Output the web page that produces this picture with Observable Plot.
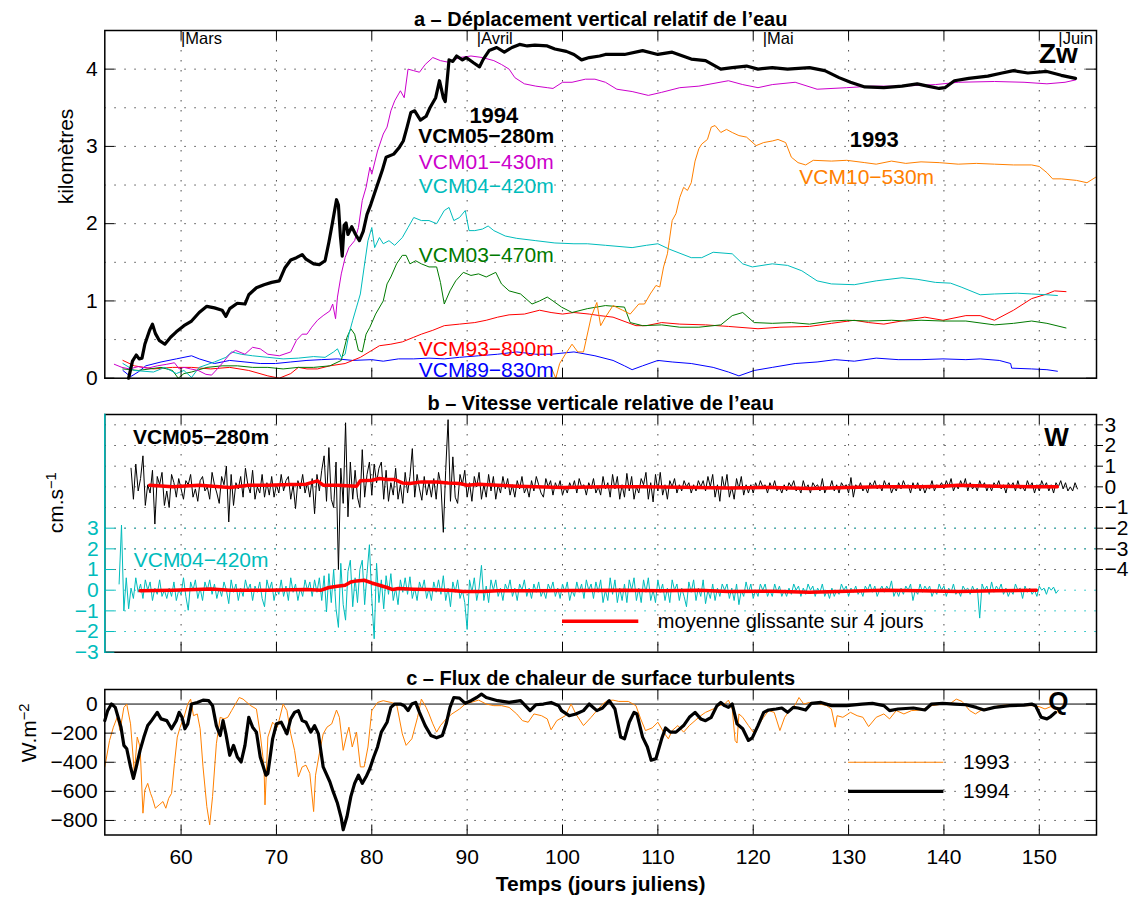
<!DOCTYPE html>
<html><head><meta charset="utf-8">
<script src="https://cdn.jsdelivr.net/npm/d3@7"></script>
<script src="https://cdn.jsdelivr.net/npm/@observablehq/plot@0.6"></script>
<style>
body{margin:0;background:#fff;}
#chart{width:1131px;}
#chart svg{display:block;}
</style></head><body><div id="chart"></div>
<script>
// ---------------- DATA ----------------
const xTicks = [60, 70, 80, 90, 100, 110, 120, 130, 140, 150];
const months = ["Mars", "Avril", "Mai", "Juin"];
const monthDays = [60, 91, 121, 152];

// Panel a: vertical displacement (km) [julian day, km]
const vcm05 = [[54.5,0.0],[54.9,0.22],[55.3,0.30],[55.6,0.25],[55.9,0.26],[56.2,0.44],[56.7,0.62],[57.0,0.70],[57.3,0.58],[57.7,0.49],[58.3,0.44],[58.9,0.53],[59.5,0.60],[60.3,0.68],[61.1,0.74],[61.9,0.85],[62.7,0.93],[63.5,0.91],[64.3,0.88],[64.7,0.80],[65.1,0.90],[65.9,0.97],[66.7,0.96],[67.1,1.08],[67.9,1.17],[68.7,1.21],[69.5,1.24],[70.3,1.26],[70.9,1.43],[71.5,1.53],[72.1,1.56],[72.7,1.60],[73.1,1.54],[73.9,1.48],[74.5,1.47],[75.1,1.52],[75.5,1.76],[75.9,2.03],[76.3,2.31],[76.5,2.24],[76.7,1.85],[76.9,1.58],[77.1,1.98],[77.3,2.01],[77.5,1.86],[77.9,1.96],[78.3,1.86],[78.7,1.78],[79.1,1.90],[79.5,2.12],[79.9,2.25],[80.5,2.47],[81.1,2.69],[81.5,2.86],[82.3,2.90],[82.9,2.99],[83.3,3.07],[83.7,3.25],[84.1,3.44],[84.5,3.46],[85.1,3.34],[85.7,3.39],[86.1,3.50],[86.7,3.63],[87.1,3.85],[87.5,3.63],[87.7,3.58],[88.1,4.12],[88.5,4.10],[88.9,4.17],[89.5,4.12],[89.9,4.15],[90.7,4.08],[91.3,4.03],[91.7,4.13],[92.3,4.24],[93.1,4.28],[93.9,4.22],[94.7,4.28],[95.5,4.32],[96.3,4.30],[97.1,4.31],[98.4,4.30],[99.2,4.26],[100.4,4.23],[101.2,4.19],[102.0,4.12],[102.8,4.15],[103.9,4.17],[104.5,4.19],[106.5,4.19],[108.4,4.24],[110.0,4.19],[111.5,4.22],[113.5,4.13],[115.0,4.11],[116.6,4.00],[117.8,4.02],[119.3,4.04],[120.5,4.00],[122.0,4.02],[123.6,4.00],[125.9,4.02],[127.5,3.98],[129.0,3.89],[130.2,3.83],[131.7,3.77],[133.7,3.76],[135.6,3.78],[137.2,3.81],[138.3,3.78],[139.5,3.75],[140.1,3.76],[141.1,3.85],[142.6,3.88],[144.6,3.91],[146.1,3.95],[147.3,3.98],[148.8,3.95],[150.8,3.97],[152.3,3.92],[153.8,3.88]];
const vcm01 = [[53.0,0.18],[53.8,0.14],[54.6,0.12],[55.5,0.15],[56.5,0.13],[57.5,0.16],[58.5,0.18],[59.3,0.20],[59.8,0.12],[60.3,0.14],[61.0,0.12],[61.8,0.10],[62.6,0.05],[63.2,0.04],[63.8,0.12],[64.5,0.22],[65.1,0.31],[65.7,0.36],[66.7,0.31],[67.5,0.40],[68.3,0.38],[69.1,0.31],[70.3,0.29],[71.5,0.34],[72.1,0.49],[72.7,0.57],[73.2,0.57],[73.7,0.66],[74.3,0.75],[74.9,0.81],[75.6,0.87],[75.9,0.96],[76.2,0.77],[76.4,1.05],[76.8,1.35],[77.2,1.56],[77.6,1.69],[78.2,1.78],[78.6,1.95],[79.0,2.30],[79.4,2.47],[79.8,2.73],[80.0,2.64],[80.6,2.94],[81.2,3.16],[81.6,3.25],[82.0,3.46],[82.4,3.59],[83.0,3.72],[83.4,3.63],[83.8,4.00],[84.4,3.98],[85.0,3.96],[85.6,4.06],[86.4,4.15],[87.2,4.11],[88.0,4.09],[89.2,4.15],[90.4,4.17],[91.6,4.15],[92.8,4.11],[93.6,4.06],[94.4,4.00],[95.0,3.89],[96.0,3.81],[97.2,3.78],[98.4,3.76],[99.0,3.75],[100.0,3.83],[101.0,3.83],[102.4,3.87],[103.4,3.87],[104.5,3.83],[105.7,3.74],[107.3,3.71],[109.0,3.66],[110.4,3.70],[112.3,3.76],[114.3,3.78],[117.4,3.85],[118.9,3.80],[120.5,3.76],[122.0,3.80],[124.4,3.83],[126.7,3.74],[129.8,3.76],[132.5,3.78],[135.6,3.78],[139.1,3.80],[141.5,3.83],[145.3,3.84],[148.4,3.83],[150.8,3.81],[152.7,3.83],[153.8,3.86]];
const vcm04 = [[53.9,0.19],[55.1,0.10],[57.1,0.08],[58.3,0.14],[59.5,0.06],[60.3,0.10],[61.1,0.01],[61.9,0.14],[63.5,0.21],[64.7,0.27],[65.3,0.34],[66.3,0.31],[67.5,0.29],[69.1,0.27],[70.7,0.25],[72.3,0.26],[73.9,0.28],[75.1,0.27],[76.0,0.34],[76.4,0.38],[76.8,0.27],[77.2,0.31],[77.6,0.57],[78.0,0.75],[78.4,0.92],[78.8,1.09],[79.2,1.44],[79.6,1.78],[80.0,1.95],[80.3,1.69],[80.8,1.82],[81.2,1.74],[81.8,1.78],[82.4,1.72],[83.2,1.82],[83.8,1.95],[84.4,2.08],[85.2,2.04],[86.0,2.04],[86.8,2.00],[87.6,2.17],[88.1,2.21],[88.6,2.04],[89.2,2.08],[89.8,2.17],[90.2,1.91],[90.8,1.91],[91.6,1.93],[92.2,1.97],[92.8,1.91],[94.0,1.84],[95.2,1.81],[97.2,1.78],[99.2,1.75],[101.2,1.74],[102.6,1.74],[104.5,1.72],[107.3,1.69],[108.8,1.72],[110.0,1.74],[111.2,1.67],[113.5,1.56],[114.6,1.56],[115.8,1.63],[117.8,1.61],[118.9,1.48],[119.9,1.44],[122.0,1.48],[123.6,1.46],[125.1,1.39],[126.7,1.26],[128.2,1.22],[130.6,1.21],[132.9,1.26],[135.6,1.30],[137.2,1.28],[139.1,1.24],[140.7,1.23],[141.8,1.18],[143.8,1.08],[145.3,1.09],[147.7,1.10],[149.2,1.09],[150.8,1.08],[151.9,1.07]];
const vcm03 = [[53.9,0.12],[55.5,0.10],[57.9,0.14],[59.1,0.10],[59.7,0.00],[60.3,0.06],[61.1,0.08],[62.7,0.14],[64.3,0.16],[65.9,0.16],[67.5,0.14],[69.1,0.14],[70.7,0.12],[72.3,0.14],[73.9,0.14],[75.6,0.16],[76.8,0.23],[77.4,0.53],[77.8,0.64],[78.2,0.57],[78.6,0.36],[79.0,0.34],[79.4,0.57],[79.8,0.66],[80.4,0.83],[81.2,1.00],[81.6,1.22],[82.0,1.31],[82.6,1.48],[83.2,1.59],[83.6,1.59],[84.0,1.48],[84.6,1.52],[85.2,1.48],[86.0,1.44],[86.8,1.44],[87.2,1.24],[87.6,0.96],[88.2,1.13],[88.8,1.26],[89.6,1.37],[90.4,1.33],[91.2,1.35],[92.0,1.31],[93.0,1.37],[93.6,1.22],[94.4,1.13],[95.6,1.09],[96.8,0.96],[97.6,1.00],[98.4,1.05],[99.0,1.00],[99.9,0.92],[101.0,0.85],[102.6,0.90],[104.5,0.94],[106.5,0.92],[107.1,0.72],[108.4,0.68],[110.4,0.69],[112.3,0.66],[114.3,0.66],[116.6,0.69],[117.8,0.81],[118.9,0.85],[120.1,0.72],[122.0,0.71],[124.0,0.72],[125.9,0.70],[128.2,0.74],[129.8,0.75],[132.1,0.74],[134.5,0.75],[136.0,0.74],[137.6,0.75],[139.9,0.74],[142.3,0.74],[145.3,0.69],[147.3,0.71],[149.2,0.74],[150.8,0.71],[152.8,0.65]];
const vcm93 = [[53.9,0.23],[55.1,0.16],[57.1,0.12],[59.1,0.14],[61.1,0.14],[63.1,0.12],[65.1,0.14],[67.1,0.10],[69.1,0.03],[70.3,0.00],[71.5,0.06],[72.3,0.14],[73.2,0.12],[74.3,0.12],[75.6,0.16],[77.2,0.19],[78.8,0.27],[80.0,0.36],[80.8,0.42],[82.0,0.44],[83.2,0.47],[84.4,0.53],[85.2,0.57],[86.4,0.62],[87.6,0.68],[89.2,0.70],[90.8,0.72],[92.0,0.75],[93.2,0.79],[94.4,0.82],[96.0,0.83],[97.6,0.88],[98.8,0.85],[100.0,0.83],[101.2,0.85],[102.8,0.83],[103.9,0.81],[105.3,0.79],[107.7,0.68],[108.8,0.68],[110.4,0.72],[112.3,0.70],[115.0,0.69],[117.4,0.67],[120.5,0.64],[122.8,0.66],[125.9,0.67],[128.2,0.71],[130.6,0.75],[132.1,0.72],[133.7,0.70],[136.0,0.75],[138.0,0.79],[139.9,0.75],[142.3,0.81],[143.8,0.81],[145.3,0.75],[147.3,0.88],[149.2,1.03],[150.8,1.09],[151.6,1.13],[152.8,1.12]];
const vcm89 = [[53.9,0.10],[54.7,0.02],[55.5,0.08],[56.3,0.16],[57.9,0.21],[59.5,0.25],[61.1,0.29],[61.9,0.25],[63.5,0.19],[65.1,0.23],[66.7,0.21],[68.3,0.19],[69.9,0.19],[71.5,0.21],[73.2,0.23],[74.7,0.24],[76.4,0.25],[78.0,0.23],[80.0,0.24],[81.2,0.22],[82.8,0.25],[84.4,0.25],[86.0,0.26],[87.6,0.25],[89.2,0.27],[91.2,0.29],[93.2,0.31],[95.2,0.34],[97.2,0.31],[98.8,0.31],[101.2,0.34],[103.4,0.29],[105.3,0.23],[106.5,0.16],[107.3,0.11],[108.4,0.16],[110.0,0.23],[111.5,0.21],[113.5,0.19],[115.8,0.14],[117.4,0.08],[118.5,0.03],[120.1,0.10],[122.0,0.14],[124.4,0.19],[126.7,0.21],[128.6,0.24],[130.6,0.22],[132.9,0.26],[135.2,0.24],[137.6,0.24],[139.9,0.25],[142.3,0.24],[143.8,0.25],[145.8,0.23],[147.0,0.19],[147.1,0.13],[149.2,0.12],[150.8,0.11],[151.9,0.09]];
const vcm10 = [[98.8,0.14],[99.3,0.00],[99.7,0.19],[100.3,0.31],[101.0,0.44],[101.6,0.34],[102.2,0.34],[103.0,0.79],[103.6,0.98],[104.0,0.68],[104.5,0.79],[105.3,0.94],[106.3,0.88],[107.1,0.83],[108.0,0.96],[108.6,0.96],[109.2,1.09],[109.8,1.20],[110.2,1.18],[110.6,1.44],[111.0,1.61],[111.2,1.78],[111.5,2.04],[111.9,2.13],[112.3,2.34],[112.7,2.47],[113.1,2.43],[113.5,2.53],[113.9,2.81],[114.3,2.97],[114.6,3.03],[115.2,3.09],[115.6,3.25],[116.0,3.27],[116.6,3.18],[117.2,3.22],[117.8,3.18],[118.5,3.14],[119.3,3.12],[120.3,3.01],[121.1,3.05],[122.0,3.07],[122.6,3.09],[123.4,3.05],[124.0,2.86],[124.7,2.79],[125.5,2.76],[126.3,2.82],[128.2,2.81],[129.8,2.82],[131.7,2.79],[132.9,2.77],[134.5,2.81],[136.0,2.78],[137.6,2.80],[139.5,2.79],[141.5,2.77],[143.4,2.78],[145.3,2.77],[147.3,2.76],[149.2,2.76],[150.0,2.74],[150.8,2.66],[151.4,2.58],[152.3,2.58],[153.9,2.56],[155.0,2.53],[155.9,2.60]];

// Panel b: vertical velocity (cm/s), regular samples every W_STEP days
const W_STEP = 0.25;
const W05_START = 54.75;
const w05 = [
 0.9,-0.6,1.1,-0.2,0.4,1.5,-0.9,0.1,-0.3,0.8,-1.8,0.5,0.1,0.7,-0.9,-0.2,-1.0,0.6,0.2,-0.5,
 0.4,-0.1,-0.6,0.3,0.1,0.6,-0.5,-0.1,-0.7,0.3,0.5,-0.2,0.0,-0.6,0.7,0.1,-0.3,-0.8,0.5,0.1,
 1.0,-1.7,0.6,-0.9,0.2,-0.1,0.5,-0.5,0.9,0.1,-0.3,0.8,-0.6,0.0,-0.3,0.6,-0.5,0.2,-0.4,0.5,
 -0.5,0.1,-0.3,0.6,-0.2,0.3,0.5,-0.6,0.1,-1.05,0.3,-0.1,0.6,-0.3,0.2,-0.5,0.4,-1.3,0.6,-0.2,
 0.8,1.5,-0.7,1.9,-0.6,-1.0,1.2,-4.0,0.9,-0.8,3.1,-1.45,1.2,-0.6,0.8,-0.5,-1.0,1.8,-0.5,0.6,
 1.2,-0.4,1.1,0.2,0.9,1.2,-0.6,0.8,-0.7,0.2,-0.4,0.9,-0.6,0.1,-0.8,0.7,-0.3,0.5,1.85,-0.5,
 0.6,-0.1,-0.65,0.5,-0.4,0.2,-0.5,0.4,-0.6,0.7,0.1,-2.2,0.8,3.25,-0.7,1.45,-0.5,-0.8,0.6,0.1,
 0.8,-0.5,0.2,-0.7,0.5,0.0,0.7,-0.6,0.1,-0.5,0.6,-0.2,0.5,-0.6,0.1,-0.3,0.5,-0.1,0.4,-0.4,
 0.1,-0.5,0.3,-0.1,0.5,-0.3,0.0,-0.5,0.3,-0.2,0.5,0.1,-0.3,-0.5,0.4,0.0,0.3,-0.4,0.2,-0.1,
 0.3,-0.4,0.0,-0.3,0.2,-0.1,0.3,-0.3,0.4,0.0,0.1,-0.4,0.2,-0.1,0.4,-0.3,0.0,-0.4,0.5,-0.1,
 0.2,-0.5,0.6,-0.1,0.5,-0.6,0.1,-0.5,0.65,-0.2,0.5,-0.6,0.0,-0.3,0.4,0.1,0.7,-0.6,0.2,-0.73,
 0.6,-0.2,0.7,-0.4,0.1,-0.6,0.3,0.0,0.4,-0.3,0.1,-0.2,0.3,0.0,0.2,-0.3,0.1,-0.2,0.3,0.0,
 0.3,-0.2,0.5,0.0,0.6,-0.5,0.1,-0.7,0.5,-0.1,0.6,-0.5,0.0,-0.6,0.4,-0.1,0.5,-0.4,0.1,-0.3,
 0.1,-0.3,0.2,-0.1,0.3,0.0,0.1,-0.3,0.2,-0.1,0.3,-0.2,0.0,-0.3,0.1,-0.2,0.2,0.0,0.3,-0.2,
 0.0,-0.3,0.3,-0.1,0.1,-0.3,0.2,0.0,0.1,-0.2,0.4,-0.3,0.0,-0.1,0.3,-0.2,0.1,-0.3,0.2,0.0,
 0.1,-0.3,0.45,-0.5,0.1,-0.1,0.2,-0.2,0.0,-0.3,0.2,0.0,0.3,-0.1,0.1,-0.2,0.3,0.0,0.2,-0.3,
 0.0,-0.2,0.2,-0.1,0.3,0.0,0.1,-0.3,0.2,-0.1,0.2,-0.2,0.1,-0.3,0.0,-0.1,0.3,-0.2,0.1,0.0,
 0.2,-0.1,0.3,0.0,0.4,-0.2,0.1,-0.1,0.3,0.0,0.4,-0.2,0.2,-0.1,0.1,-0.2,0.3,0.0,0.2,-0.2,
 0.1,-0.2,0.2,0.0,0.3,-0.1,0.1,-0.3,0.2,0.0,0.2,-0.2,0.3,-0.1,0.0,-0.2,0.3,0.0,0.2,-0.3,
 0.1,-0.2,0.3,0.0,0.2,-0.2,0.1,-0.3,0.2,0.0,0.3,-0.1,0.2,-0.2,0.0,-0.2,0.2,-0.1];
const W04_START = 53.5;
const w04 = [
 0.3,3.15,-1.0,0.6,-0.9,0.1,-0.4,0.6,-0.1,0.3,-0.4,0.5,0.0,0.4,-0.5,0.1,-0.2,0.5,-0.3,0.0,
 -0.4,0.1,-0.3,0.4,-0.5,0.0,-0.2,0.6,-0.3,-0.97,0.4,0.0,0.5,-0.4,0.1,-0.5,0.4,0.0,0.5,-0.2,
 0.3,-0.4,0.1,-0.3,0.4,0.0,-0.65,0.5,-0.1,0.3,-0.5,0.1,-0.3,0.5,0.0,0.3,-0.5,0.2,-0.1,0.4,
 -0.4,-0.8,0.5,0.0,0.4,-0.5,0.1,-0.2,0.5,-0.3,0.2,-0.5,0.6,-0.1,0.3,-0.5,0.1,-0.3,0.5,0.0,
 0.4,-0.3,0.5,-0.1,0.6,-0.5,0.7,-1.05,0.8,-0.6,1.0,-0.9,-1.8,1.3,-0.7,-1.45,0.9,1.45,-0.8,0.6,
 -0.6,1.0,1.45,-0.7,0.8,2.2,-0.4,-2.35,1.3,-0.6,0.5,-0.9,0.7,-0.2,0.8,-0.5,0.1,-0.7,0.5,-0.1,
 0.6,-0.2,0.65,-0.4,0.1,-0.5,0.4,0.0,0.5,-0.4,0.1,-0.5,0.4,-0.1,0.5,-0.2,0.7,-0.5,0.1,-0.8,
 0.4,-0.1,0.5,-0.4,0.0,-0.6,-1.9,0.5,-0.1,0.6,-0.5,0.1,1.2,-0.5,0.2,-0.6,0.5,0.0,0.5,-0.3,
 0.1,-0.5,0.3,0.0,0.5,-0.3,0.1,-0.5,0.3,0.0,0.5,-0.3,0.1,-0.4,0.3,-0.1,0.4,-0.3,0.0,-0.4,
 0.3,0.0,0.4,-0.3,0.1,-0.4,0.3,-0.1,0.4,-0.5,0.0,-0.3,0.4,-0.1,0.3,-0.4,0.5,0.0,0.3,-0.4,
 0.4,-0.1,0.5,-0.6,0.0,-0.5,0.6,-0.2,0.5,-0.6,0.1,-0.5,0.3,-0.6,0.5,0.0,0.6,-0.5,0.1,-0.6,
 0.5,-0.1,0.6,-0.5,0.0,-0.6,0.5,-0.1,0.3,-0.5,0.1,-0.6,0.5,0.0,0.3,-0.5,0.1,-0.3,-0.8,0.4,
 -0.1,0.5,-0.5,0.1,-0.3,0.5,-0.65,0.0,-0.4,0.3,-0.5,0.1,-0.3,0.3,0.0,0.3,-0.4,0.1,-0.5,0.3,
 -0.7,0.0,-0.3,0.4,-0.1,0.3,-0.4,0.0,-0.3,0.3,0.0,0.3,-0.3,0.0,-0.3,0.3,-0.1,0.2,-0.3,0.0,
 -0.3,0.1,-0.2,0.3,0.0,0.2,-0.3,0.1,-0.2,0.3,0.0,0.2,-0.3,0.1,-0.1,0.3,-0.3,0.0,-0.4,0.1,
 -0.3,0.0,-0.2,0.3,0.0,0.2,-0.3,0.1,-0.1,0.2,-0.2,0.0,-0.3,0.2,0.0,0.3,-0.1,0.2,-0.3,0.0,
 0.2,-0.1,0.2,0.0,0.45,-0.3,0.0,-0.3,0.1,-0.2,0.2,0.0,0.3,-0.5,0.0,-0.2,0.3,-0.1,0.2,0.0,
 0.2,-0.3,0.0,-0.2,0.3,0.0,0.2,-0.3,0.1,-0.1,0.3,-0.2,0.0,-0.3,0.2,0.0,0.1,-0.2,0.2,-0.1,
 0.1,-1.35,0.3,0.0,0.2,-0.2,0.4,-0.1,0.2,0.0,0.3,-0.2,0.1,-0.3,0.0,-0.2,0.3,0.0,0.1,-0.4,
 0.2,-0.1,0.1,-0.2,0.0,-0.3,0.2,0.0,0.1,-0.2,0.15,0.0,0.15,-0.15,0.0];
// 4-day running means [day, cm/s]
const mean05 = [[56.7,0.08],[59.1,0.0],[61.9,0.08],[65.1,-0.03],[67.1,0.08],[69.1,0.08],[71.5,0.11],[73.1,0.13],[74.3,0.29],[74.9,0.08],[76.4,0.08],[78.4,0.03],[78.8,0.29],[80.0,0.32],[80.8,0.40],[81.6,0.35],[82.4,0.35],[83.2,0.19],[84.0,0.16],[85.2,0.24],[86.8,0.24],[88.0,0.19],[89.2,0.16],[90.0,0.08],[91.2,0.13],[93.2,0.08],[95.2,0.03],[97.2,0.0],[100.0,-0.03],[104.5,0.0],[108.4,0.0],[114.3,-0.03],[117.4,-0.05],[122.0,-0.03],[125.9,-0.08],[129.8,-0.03],[133.7,0.0],[137.6,0.0],[139.9,0.03],[141.5,0.08],[145.3,0.03],[149.2,0.0],[151.9,0.0]];
const mean04 = [[55.7,-0.03],[59.1,0.0],[63.1,0.06],[65.1,0.0],[69.1,0.0],[73.1,0.03],[74.7,0.0],[75.5,0.13],[76.4,0.19],[77.2,0.24],[77.8,0.40],[78.4,0.45],[79.2,0.48],[80.0,0.35],[80.8,0.24],[81.6,0.13],[82.2,0.03],[82.8,0.08],[84.4,0.05],[86.0,0.03],[88.4,-0.02],[89.6,-0.06],[91.6,-0.06],[93.2,-0.03],[97.2,-0.03],[101.2,-0.02],[106.5,0.0],[110.4,-0.03],[114.3,0.0],[117.4,-0.06],[122.0,-0.05],[125.9,-0.10],[129.8,-0.05],[133.7,0.0],[137.6,-0.03],[141.5,-0.06],[145.3,-0.03],[149.7,0.0]];

// Panel c: turbulent surface heat flux (W/m2) [day, flux]
const q1994 = [[52.0,-114],[52.3,-45],[52.7,0],[53.1,-23],[53.7,-159],[54.0,-284],[54.3,-307],[54.7,-432],[55.0,-511],[55.3,-432],[55.7,-318],[56.1,-227],[56.5,-148],[56.9,-114],[57.5,-57],[57.9,-102],[58.5,-114],[59.0,-170],[59.5,-114],[59.8,-57],[60.1,-91],[60.4,-170],[60.7,-136],[61.1,0],[61.7,11],[62.3,27],[62.9,23],[63.3,-11],[63.7,-148],[64.1,-216],[64.4,-114],[64.7,-205],[65.1,-352],[65.5,-284],[65.9,-364],[66.3,-398],[66.7,-284],[67.1,-91],[67.5,-159],[67.9,-193],[68.3,-364],[68.9,-489],[69.1,-477],[69.6,-239],[70.0,-136],[70.5,-125],[71.1,-205],[71.5,-102],[71.9,-57],[72.3,-45],[72.7,-114],[73.1,-125],[73.6,-193],[74.0,-148],[74.4,-205],[74.9,-432],[75.6,-534],[75.95,-602],[76.4,-682],[76.8,-784],[77.0,-864],[77.4,-773],[77.8,-636],[78.2,-545],[78.6,-489],[79.0,-545],[79.4,-500],[79.8,-443],[80.2,-364],[80.6,-295],[81.0,-193],[81.6,-125],[82.0,-23],[82.4,0],[83.0,0],[83.4,-11],[83.8,-45],[84.2,0],[84.6,11],[85.0,-57],[85.6,-148],[86.2,-216],[86.8,-232],[87.4,-216],[87.8,-136],[88.2,-23],[88.6,45],[89.2,41],[89.8,5],[90.4,23],[91.0,45],[91.5,68],[92.0,45],[93.2,23],[94.4,11],[95.6,23],[96.6,-45],[97.2,-5],[98.0,0],[98.8,11],[99.6,-11],[99.9,-45],[100.7,-80],[101.4,-68],[102.2,-45],[102.8,0],[103.6,-45],[104.2,-27],[104.9,23],[105.5,-34],[106.1,-227],[106.5,-239],[107.0,-125],[107.5,-57],[107.8,-68],[108.4,-227],[108.9,-295],[109.3,-386],[109.8,-375],[110.4,-239],[110.8,-164],[111.3,-193],[111.9,-193],[112.7,-148],[113.3,-91],[113.9,-57],[114.5,-102],[115.0,-114],[115.6,-91],[116.2,-11],[116.6,11],[117.0,-11],[117.4,-23],[117.8,0],[118.3,-136],[118.9,-170],[119.5,-250],[119.9,-232],[120.5,-148],[121.1,-57],[121.6,-41],[122.4,-34],[123.0,-27],[123.6,-57],[124.2,-23],[124.7,-27],[125.5,-41],[126.1,5],[127.1,11],[128.2,-11],[129.8,-11],[131.4,0],[132.5,5],[133.7,-11],[134.3,-45],[135.2,-34],[136.8,-27],[138.0,-41],[138.7,0],[139.9,5],[141.1,0],[142.3,-5],[143.4,-23],[144.2,-41],[145.3,-23],[146.9,-11],[148.4,-7],[149.2,0],[149.6,-11],[150.2,-91],[150.8,-102],[151.2,-86],[151.7,-57]];
const q1993 = [[52.0,-432],[52.5,-250],[52.9,-159],[53.3,-91],[53.6,-182],[54.0,-23],[54.3,0],[54.7,-136],[55.1,-477],[55.4,-227],[55.7,-295],[56.0,-750],[56.2,-591],[56.5,-545],[56.8,-614],[57.0,-648],[57.3,-716],[57.7,-693],[58.1,-670],[58.4,-716],[58.7,-648],[59.0,-614],[59.3,-409],[59.6,-227],[59.9,-159],[60.3,-91],[60.7,0],[61.0,34],[61.3,-80],[61.7,-68],[62.0,-170],[62.3,-432],[62.7,-705],[63.0,-830],[63.3,-636],[63.7,-273],[64.1,-91],[64.5,-102],[64.9,-91],[65.3,-45],[65.7,0],[66.1,45],[66.5,34],[66.9,11],[67.3,-11],[67.9,-34],[68.3,-205],[68.7,-432],[68.8,-693],[69.1,-227],[69.6,-125],[70.1,-159],[70.7,0],[71.1,-45],[71.5,-205],[71.9,-318],[72.3,-500],[72.7,-432],[73.1,-420],[73.5,-477],[73.9,-739],[74.1,-489],[74.5,-341],[74.9,-205],[75.3,-159],[75.8,-136],[76.3,-41],[76.6,-91],[77.0,-318],[77.4,-205],[77.6,-159],[77.95,-295],[78.4,-193],[78.8,-432],[79.2,-432],[79.6,-295],[80.0,-45],[80.6,11],[81.2,23],[82.0,11],[82.6,0],[83.2,-205],[83.6,-284],[84.2,-239],[84.8,-91],[85.2,34],[85.7,-23],[86.0,-68],[86.4,-136],[86.8,-193],[87.2,-148],[87.8,-102],[88.4,-68],[89.2,-34],[89.8,0],[90.4,11],[91.2,27],[92.0,0],[92.8,-11],[93.6,-11],[94.4,-23],[95.2,-68],[95.8,-114],[96.4,-125],[97.0,-68],[97.8,-80],[98.4,-102],[98.8,-177],[99.4,-114],[100.3,-80],[100.9,0],[101.4,-68],[102.2,-148],[103.0,-91],[103.6,-45],[104.2,0],[104.7,23],[105.3,27],[105.9,18],[106.9,18],[107.7,-11],[108.2,-102],[108.7,-182],[109.4,-164],[110.0,-125],[110.6,-193],[111.1,-239],[111.5,-182],[112.1,-148],[112.7,-193],[113.3,-148],[113.9,-114],[114.5,-80],[115.0,-57],[115.8,-34],[116.4,-11],[117.0,0],[117.4,27],[117.8,-34],[118.1,-250],[118.3,-268],[118.5,-68],[118.9,-91],[119.5,-148],[120.0,-193],[120.5,-148],[121.1,-91],[121.6,-45],[122.2,-57],[122.8,-182],[123.3,-91],[123.8,-45],[124.4,-5],[124.8,45],[125.3,0],[125.9,11],[126.7,5],[127.7,-11],[128.2,-34],[128.6,-159],[128.8,-80],[129.4,-91],[130.2,-57],[130.9,-80],[131.5,-91],[132.1,-155],[132.9,-91],[133.7,-68],[134.3,-102],[135.0,-45],[135.8,-68],[136.6,-45],[137.6,-41],[138.7,-11],[139.9,0],[140.7,5],[141.3,34],[141.9,18],[142.7,-45],[143.3,-68],[144.1,-34],[144.9,-27],[145.8,-11],[147.0,-5],[148.2,-11],[149.2,-11],[150.0,-18],[150.6,-34],[151.2,-18],[152.0,-23]];

// ---------------- LAYOUT / STYLE ----------------
const FONT = "'Liberation Sans', Arial, Helvetica, sans-serif";
const WIDTH = 1131, ML = 104.3, MR = 35;
const FW = WIDTH - ML - MR;
const X_DOMAIN = [52, 156];
const DOT = "1.5 8.5";
const GRID = {stroke: "#222", strokeWidth: 1, strokeDasharray: DOT, strokeOpacity: 0.8};
const C_MAG = "#cc00cc", C_CYAN = "#00bcbc", C_GREEN = "#007a00", C_RED = "#ff0000", C_BLUE = "#0000ff", C_ORANGE = "#ff8000";
const W_OFFSET = 5;  // black W series is drawn 5 units above the cyan one (right axis)
const fmt = d => (d < 0 ? "\u2212" : "") + Math.abs(d);
const PX = d => d[0], PY = d => d[1];
const TICK = 10;

function inwardX(h, ticks) {
  return [Plot.tickX(ticks, {x: d => d, insetTop: h - TICK, stroke: "black"}),
          Plot.tickX(ticks, {x: d => d, insetBottom: h - TICK, stroke: "black"})];
}
function inwardY(ticks, left = true, right = true, stroke = "black") {
  const m = [];
  if (left) m.push(Plot.tickY(ticks, {y: d => d, insetRight: FW - TICK, stroke}));
  if (right) m.push(Plot.tickY(ticks, {y: d => d, insetLeft: FW - TICK, stroke}));
  return m;
}
function title(t) {
  return Plot.text([t], {frameAnchor: "top", dy: -5, lineAnchor: "bottom", fontWeight: "bold", fontSize: 20});
}
function superscripts(svg) {
  svg.querySelectorAll("text").forEach(t => {
    const s = t.textContent, i = s.indexOf("^");
    if (i < 0 || t.children.length) return;
    while (t.firstChild) t.removeChild(t.firstChild);
    t.appendChild(document.createTextNode(s.slice(0, i)));
    const ts = document.createElementNS("http://www.w3.org/2000/svg", "tspan");
    ts.setAttribute("dy", "-0.45em");
    ts.setAttribute("font-size", "0.7em");
    ts.textContent = s.slice(i + 1);
    t.appendChild(ts);
  });
}
const baseStyle = {fontFamily: FONT, fontSize: "21px", background: "white", color: "black", overflow: "visible"};

// ---------------- PANEL A ----------------
const kmTicks = [0, 1, 2, 3, 4];
const kmGrid = [0.5, 1, 1.5, 2, 2.5, 3, 3.5, 4];
const labelsA = [
  {text: "VCM01\u2212430m", day: 92.0, km: 2.80, color: C_MAG},
  {text: "VCM04\u2212420m", day: 92.0, km: 2.49, color: C_CYAN},
  {text: "VCM03\u2212470m", day: 92.0, km: 1.59, color: C_GREEN},
  {text: "VCM93\u2212800m", day: 92.0, km: 0.38, color: C_RED},
  {text: "VCM89\u2212830m", day: 92.0, km: 0.10, color: C_BLUE},
  {text: "VCM10\u2212530m", day: 131.9, km: 2.60, color: C_ORANGE}
];
const boldA = [
  {text: "1994", day: 92.8, km: 3.40, size: 22},
  {text: "VCM05\u2212280m", day: 92.0, km: 3.13, size: 21},
  {text: "1993", day: 132.7, km: 3.08, size: 22},
  {text: "Zw", day: 152.0, km: 4.20, size: 28}
];
const FH_A = 347.7;
const panelA = Plot.plot({
  width: WIDTH, height: 390, marginTop: 30, marginBottom: 12.3, marginLeft: ML, marginRight: MR,
  style: baseStyle,
  x: {domain: X_DOMAIN, axis: null},
  y: {domain: [0, 4.5], axis: null},
  marks: [
    Plot.ruleX(xTicks, GRID),
    Plot.ruleY(kmGrid, GRID),
    Plot.line(vcm89, {x: PX, y: PY, stroke: C_BLUE, strokeWidth: 1}),
    Plot.line(vcm93, {x: PX, y: PY, stroke: C_RED, strokeWidth: 1}),
    Plot.line(vcm03, {x: PX, y: PY, stroke: C_GREEN, strokeWidth: 1}),
    Plot.line(vcm04, {x: PX, y: PY, stroke: C_CYAN, strokeWidth: 1}),
    Plot.line(vcm10, {x: PX, y: PY, stroke: C_ORANGE, strokeWidth: 1}),
    Plot.line(vcm01, {x: PX, y: PY, stroke: C_MAG, strokeWidth: 1}),
    Plot.line(vcm05, {x: PX, y: PY, stroke: "black", strokeWidth: 3.2, strokeLinejoin: "round"}),
    Plot.frame({stroke: "black", strokeWidth: 1.5}),
    ...inwardX(FH_A, xTicks),
    ...inwardY(kmTicks),
    Plot.axisY(kmTicks, {anchor: "left", label: null, tickSize: 0, tickPadding: 7, fontSize: 21, tickFormat: d => String(d)}),
    Plot.text(months, {x: (d, i) => monthDays[i], text: d => "|" + d, frameAnchor: "top", dy: 2, lineAnchor: "top", textAnchor: "start", fontSize: 16.5, fill: "black"}),
    Plot.text(labelsA, {x: "day", y: "km", text: "text", fill: "color", fontSize: 21, lineAnchor: "middle"}),
    Plot.text(boldA, {x: "day", y: "km", text: "text", fontSize: "size", fontWeight: "bold", lineAnchor: "middle"}),
    Plot.text(["kilom\u00e8tres"], {frameAnchor: "left", dx: -39, rotate: -90, fontSize: 21, lineAnchor: "middle"}),
    title("a \u2013 D\u00e9placement vertical relatif de l\u2019eau")
  ]
});

// ---------------- PANEL B ----------------
const cyanTicks = [-3, -2, -1, 0, 1, 2, 3];
const blackTicks = [-4, -3, -2, -1, 0, 1, 2, 3];
const w05Series = w05.map((v, i) => [W05_START + i * W_STEP, v + W_OFFSET]);
const w04Series = w04.map((v, i) => [W04_START + i * W_STEP, v]);
const mean05Shift = mean05.map(([d, v]) => [d, v + W_OFFSET]);
const LEG_B = {x1: 100, x2: 108, y: -1.5, textX: 110};
const FH_B = 237.7;
const panelB = Plot.plot({
  width: WIDTH, height: 275, marginTop: 24, marginBottom: 13.3, marginLeft: ML, marginRight: MR,
  style: baseStyle,
  x: {domain: X_DOMAIN, axis: null},
  y: {domain: [-3, 8.5], axis: null},
  marks: [
    Plot.ruleX(xTicks, GRID),
    Plot.ruleY(blackTicks.map(d => d + W_OFFSET), GRID),
    Plot.ruleY([-2, -1, 0, 2, 3], {...GRID, stroke: C_CYAN, strokeOpacity: 1}),
    Plot.line(w04Series, {x: PX, y: PY, stroke: C_CYAN, strokeWidth: 1}),
    Plot.line(w05Series, {x: PX, y: PY, stroke: "black", strokeWidth: 1}),
    Plot.line(mean04, {x: PX, y: PY, stroke: C_RED, strokeWidth: 3.5}),
    Plot.line(mean05Shift, {x: PX, y: PY, stroke: C_RED, strokeWidth: 3.5}),
    Plot.frame({stroke: "black", strokeWidth: 1.5}),
    Plot.frame({anchor: "left", stroke: C_CYAN, strokeWidth: 1.5}),
    ...inwardX(FH_B, xTicks),
    ...inwardY(cyanTicks, true, false, C_CYAN),
    Plot.axisY(cyanTicks, {anchor: "left", label: null, tickSize: 0, tickPadding: 6, fontSize: 21, color: C_CYAN, tickFormat: fmt}),
    Plot.axisY(blackTicks.map(d => d + W_OFFSET), {anchor: "right", label: null, tickSize: 6, tickPadding: 2, fontSize: 21, tickFormat: d => fmt(d - W_OFFSET)}),
    Plot.text(["VCM05\u2212280m"], {x: 62.1, y: 7.4, fontWeight: "bold", fontSize: 21, lineAnchor: "middle"}),
    Plot.text(["VCM04\u2212420m"], {x: 62.1, y: 1.44, fill: C_CYAN, fontSize: 21, lineAnchor: "middle"}),
    Plot.text(["W"], {x: 151.8, y: 7.4, fontWeight: "bold", fontSize: 26, lineAnchor: "middle"}),
    Plot.ruleY([LEG_B.y], {x1: LEG_B.x1, x2: LEG_B.x2, stroke: C_RED, strokeWidth: 3.5}),
    Plot.text(["moyenne glissante sur 4 jours"], {x: LEG_B.textX, y: LEG_B.y, textAnchor: "start", fontSize: 20, lineAnchor: "middle"}),
    Plot.text(["cm.s^\u22121"], {frameAnchor: "left", dx: -49, rotate: -90, fontSize: 21, lineAnchor: "middle"}),
    title("b \u2013 Vitesse verticale relative de l\u2019eau")
  ]
});
superscripts(panelB);

// ---------------- PANEL C ----------------
const qTicks = [-800, -600, -400, -200, 0];
const LEG_C = {x1: 130, x2: 140, textX: 142, y1993: -400, y1994: -600};
const FH_C = 145.5;
const panelC = Plot.plot({
  width: WIDTH, height: 235, marginTop: 24, marginBottom: 65.5, marginLeft: ML, marginRight: MR,
  style: baseStyle,
  x: {domain: X_DOMAIN, axis: null},
  y: {domain: [-900, 100], axis: null},
  marks: [
    Plot.ruleX(xTicks, GRID),
    Plot.ruleY([-800, -600, -400, -200], GRID),
    Plot.ruleY([0], {stroke: "black", strokeWidth: 1}),
    Plot.line(q1993, {x: PX, y: PY, stroke: C_ORANGE, strokeWidth: 1}),
    Plot.line(q1994, {x: PX, y: PY, stroke: "black", strokeWidth: 3.2, strokeLinejoin: "round"}),
    Plot.frame({stroke: "black", strokeWidth: 1.5}),
    ...inwardX(FH_C, xTicks),
    ...inwardY(qTicks),
    Plot.axisY(qTicks, {anchor: "left", label: null, tickSize: 0, tickPadding: 7, fontSize: 21, tickFormat: fmt}),
    Plot.axisX(xTicks, {anchor: "bottom", label: null, tickSize: 0, tickPadding: 14, fontSize: 21, tickFormat: d => String(d)}),
    Plot.ruleY([LEG_C.y1993], {x1: LEG_C.x1, x2: LEG_C.x2, stroke: C_ORANGE, strokeWidth: 1}),
    Plot.ruleY([LEG_C.y1994], {x1: LEG_C.x1, x2: LEG_C.x2, stroke: "black", strokeWidth: 3.2}),
    Plot.text(["1993"], {x: LEG_C.textX, y: LEG_C.y1993, textAnchor: "start", fontSize: 21, lineAnchor: "middle"}),
    Plot.text(["1994"], {x: LEG_C.textX, y: LEG_C.y1994, textAnchor: "start", fontSize: 21, lineAnchor: "middle"}),
    Plot.text(["Q"], {x: 152, y: 15, fontWeight: "bold", fontSize: 26, lineAnchor: "middle"}),
    Plot.text(["W.m^\u22122"], {frameAnchor: "left", dx: -76, rotate: -90, fontSize: 21, lineAnchor: "middle"}),
    Plot.text(["Temps (jours juliens)"], {frameAnchor: "bottom", dy: 55.5, lineAnchor: "bottom", fontWeight: "bold", fontSize: 21}),
    title("c \u2013 Flux de chaleur de surface turbulents")
  ]
});
superscripts(panelC);

const root = document.getElementById("chart");
root.append(panelA, panelB, panelC);
</script>
</body></html>
